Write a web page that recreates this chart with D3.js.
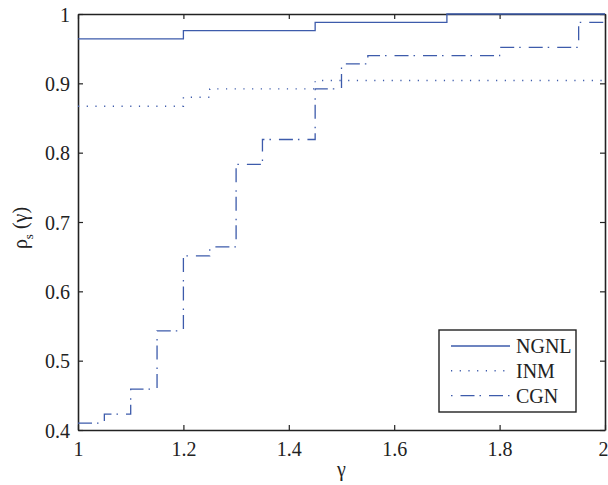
<!DOCTYPE html>
<html><head><meta charset="utf-8"><script src="https://cdn.jsdelivr.net/npm/d3@7"></script></head>
<body style="margin:0">
<svg id="chart" width="608" height="485" style="display:block"></svg>
<script>
// ---- data ----
const seriesNames = ["NGNL", "INM", "CGN"];
const ngnlX = [1, 1.2, 1.45, 1.7, 2];
const ngnlY = [0.964, 0.976, 0.988, 1.0, 1.0];
const inmX = [1, 1.2, 1.25, 1.45, 2];
const inmY = [0.867, 0.880, 0.892, 0.904, 0.904];
const cgnX = [1, 1.05, 1.1, 1.15, 1.2, 1.25, 1.3, 1.35, 1.45, 1.5, 1.55, 1.8, 1.95, 2];
const cgnY = [0.410, 0.423, 0.459, 0.543, 0.651, 0.664, 0.783, 0.819, 0.892, 0.928, 0.940, 0.952, 0.988, 0.988];
const xTicks = [1, 1.2, 1.4, 1.6, 1.8, 2];
const yTicks = [0.4, 0.5, 0.6, 0.7, 0.8, 0.9, 1];

// ---- layout ----
const W = 608, H = 485;
const margin = { left: 78, right: 3, top: 14, bottom: 55 };
const iw = W - margin.left - margin.right;
const ih = H - margin.top - margin.bottom;
const lineColor = "#3d5bab";
const axisColor = "#222";
const FONT = '"Liberation Serif"';
const FS = "20px";

const svg = d3.select("#chart");
const g = svg.append("g").attr("transform", `translate(${margin.left},${margin.top})`);

const x = d3.scaleLinear().domain([1, 2]).range([0, iw]);
const y = d3.scaleLinear().domain([0.4, 1]).range([ih, 0]);
const fmt = d => d3.format("~g")(d);

// axes (ticks inward on all sides)
const tickLen = 5;
const axB = g.append("g").attr("transform", `translate(0,${ih})`)
  .call(d3.axisBottom(x).tickValues(xTicks).tickFormat(fmt).tickSizeInner(-tickLen).tickSizeOuter(0).tickPadding(12));
const axT = g.append("g")
  .call(d3.axisTop(x).tickValues(xTicks).tickFormat("").tickSizeInner(-tickLen).tickSizeOuter(0));
const axL = g.append("g")
  .call(d3.axisLeft(y).tickValues(yTicks).tickFormat(fmt).tickSizeInner(-tickLen).tickSizeOuter(0).tickPadding(8));
const axR = g.append("g").attr("transform", `translate(${iw},0)`)
  .call(d3.axisRight(y).tickValues(yTicks).tickFormat("").tickSizeInner(-tickLen).tickSizeOuter(0));

[axB, axT, axL, axR].forEach(a => {
  a.select(".domain").attr("stroke", axisColor).attr("stroke-width", 1.6);
  a.selectAll(".tick line").attr("stroke", axisColor).attr("stroke-width", 1.2);
  a.selectAll("text").style("font-family", FONT).style("font-size", FS).attr("fill", "#222");
});
axL.selectAll(".tick text").attr("dy", "0.36em");
axB.selectAll(".tick").filter(d => d === 2).select("text").attr("text-anchor", "end").attr("x", 3);

// lines
const line = d3.line().x(d => x(d[0])).y(d => y(d[1])).curve(d3.curveStepAfter);
const styles = { NGNL: null, INM: "1.2,7.5", CGN: "14,5,1.5,8" };
const data = {
  NGNL: d3.zip(ngnlX, ngnlY),
  INM: d3.zip(inmX, inmY),
  CGN: d3.zip(cgnX, cgnY)
};
seriesNames.forEach(name => {
  g.append("path")
    .datum(data[name])
    .attr("fill", "none")
    .attr("stroke", lineColor)
    .attr("stroke-width", name === "INM" ? 1.4 : 1.3)
    .attr("stroke-dasharray", styles[name])
    .attr("d", line);
});

// axis labels
svg.append("text")
  .attr("x", margin.left + iw / 2)
  .attr("y", 476)
  .attr("text-anchor", "middle")
  .style("font-family", FONT).style("font-size", FS)
  .attr("fill", "#222")
  .text("γ");

const yl = svg.append("text")
  .attr("transform", `translate(27,${margin.top + ih / 2 + 6}) rotate(-90)`)
  .attr("text-anchor", "middle")
  .style("font-family", FONT).style("font-size", FS)
  .attr("fill", "#222");
yl.append("tspan").text("ρ");
yl.append("tspan").style("font-size", "13px").attr("dy", 6).text("s");
yl.append("tspan").attr("dy", -6).text(" (γ)");

// legend
const lg = svg.append("g").attr("transform", "translate(439,330)");
lg.append("rect").attr("width", 137).attr("height", 82)
  .attr("fill", "#fff").attr("stroke", axisColor).attr("stroke-width", 1.4);
seriesNames.forEach((name, i) => {
  const yy = 16 + i * 24.8;
  lg.append("line").attr("x1", 12).attr("x2", 71).attr("y1", yy).attr("y2", yy)
    .attr("stroke", lineColor).attr("stroke-width", name === "INM" ? 1.4 : 1.3)
    .attr("stroke-dasharray", name === "CGN" ? "1.5,8,14,5" : styles[name]);
  lg.append("text").attr("x", 77).attr("y", yy).attr("dy", "0.35em")
    .style("font-family", FONT).style("font-size", FS)
    .attr("fill", "#222").text(name);
});
</script>
</body>
</html>
